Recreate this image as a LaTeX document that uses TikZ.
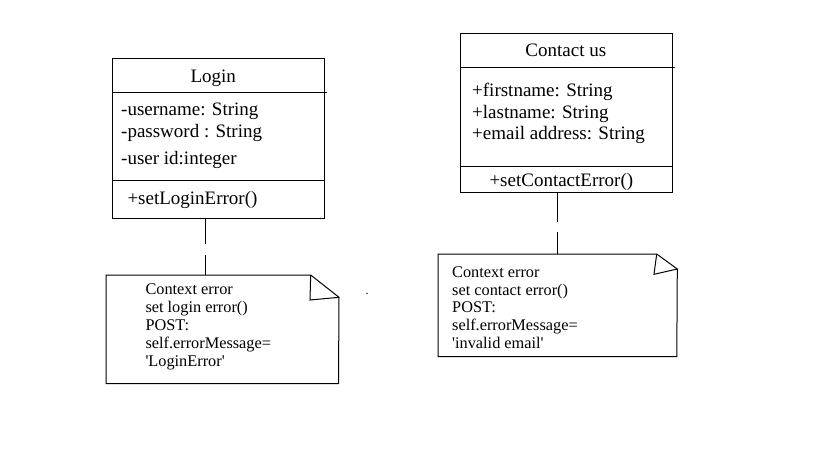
\documentclass[tikz,border=0pt]{standalone}
\usepackage{fontspec}
\setmainfont{Liberation Serif}
\newfontfamily\notefont{Liberation Serif}
\usetikzlibrary{calc}
\begin{document}
\begin{tikzpicture}[x=1pt,y=-1pt,line width=1pt,
  clsbox/.style={draw,inner sep=0pt,minimum width=212pt,minimum height=#1},
  notebox/.style={inner sep=0pt,minimum width=#1},
  cls/.style={font=\fontsize{19}{22}\selectfont,anchor=base west,inner sep=0pt},
  clstitle/.style={font=\fontsize{19}{22}\selectfont,anchor=base,inner sep=0pt},
  notetxt/.style={font=\notefont\fontsize{16.3}{18}\selectfont,anchor=base west,inner sep=0pt},
  linkline/.style={line width=1pt}]
\useasboundingbox (0,0) rectangle (839,448);
\fill[white] (0,0) rectangle (839,448);

% ---------- Login class ----------
\node[clsbox=160pt] (login) at (218,138) {};
\draw ($(login.north west)+(0,34.5)$) -- ($(login.north east)+(2,34.5)$);
\draw ($(login.north west)+(0,122.5)$) -- ($(login.north east)+(0,122.5)$);
\node[clstitle] (logintitle) at (213.3,82.3) {Login};
\node[cls] (la1) at (120.7,115.7) {-username: String};
\node[cls] (la2) at (120.7,137.3) {-password : String};
\node[cls] (la3) at (120.7,164.3) {-user id:integer};
\node[cls] (lm1) at (127,204) {+setLoginError()};

% ---------- Contact us class ----------
\node[clsbox=159.7pt] (contact) at (566.7,112.85) {};
\draw ($(contact.north west)+(0,34.7)$) -- ($(contact.north east)+(2,34.7)$);
\draw ($(contact.north west)+(0,133.7)$) -- ($(contact.north east)+(0,133.7)$);
\node[clstitle] (contacttitle) at (565.8,56) {Contact us};
\node[cls] (ca1) at (471.7,96.7) {+firstname: String};
\node[cls] (ca2) at (471.7,118.3) {+lastname: String};
\node[cls] (ca3) at (471.7,139.3) {+email address: String};
\node[cls] (cm1) at (489,186) {+setContactError()};

% ---------- Login note ----------
\node[notebox=232.5pt,minimum height=108.5pt] (lnote) at (222.25,329.25) {};
\draw (106,275) -- (310.7,275) -- (339,297.3) -- (338.5,383.5) -- (106,383.5) -- cycle;
\draw (310.7,275) -- (310,300) -- (339,297.3);
\node[notetxt] (ln1) at (145,294.3) {Context error};
\node[notetxt] (ln2) at (145,312.7) {set login error()};
\node[notetxt] (ln3) at (145,330) {POST:};
\node[notetxt] (ln4) at (145,348.3) {self.errorMessage=};
\node[notetxt] (ln5) at (145,366) {'LoginError'};
\fill (367,293.3) circle (0.8pt);

% ---------- Contact note ----------
\node[notebox=239.3pt,minimum height=102.7pt] (cnote) at (557.65,305.35) {};
\draw (438,254) -- (656.7,254) -- (677.3,269) -- (676.8,356.7) -- (438,356.7) -- cycle;
\draw (656.7,254) -- (654,274.3) -- (677.3,269);
\node[notetxt] (cn1) at (451.7,277.3) {Context error};
\node[notetxt] (cn2) at (451.7,295) {set contact error()};
\node[notetxt] (cn3) at (451.7,312.7) {POST:};
\node[notetxt] (cn4) at (451.7,330.7) {self.errorMessage=};
\node[notetxt] (cn5) at (451.7,348.3) {'invalid email'};

% ---------- connectors ----------
\coordinate (lx) at (205.3,0);
\coordinate (cx) at (557.3,0);
\draw[linkline,dash pattern=on 25.3pt off 10.7pt on 30pt] (login.south -| lx) -- (lnote.north -| lx);
\draw[linkline,dash pattern=on 28.3pt off 10pt on 30pt] (contact.south -| cx) -- (cnote.north -| cx);
\end{tikzpicture}
\end{document}
